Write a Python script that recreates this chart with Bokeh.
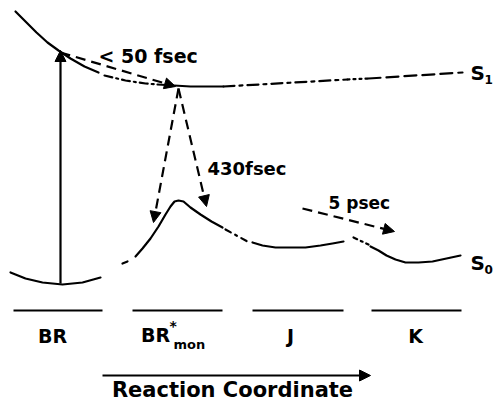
from bokeh.plotting import figure
from bokeh.models import Range1d, Arrow, NormalHead, ColumnDataSource
from bokeh.core.properties import value
from bokeh.embed import file_html
from bokeh.resources import INLINE

FONT = value("DejaVu Sans")

# ---- S1 excited-state surface (schematic points)
s1_solid_a_x = [15, 25, 36, 47, 58, 70, 84, 98]
s1_solid_a_y = [11, 21, 32, 42, 50, 58, 66, 72]
s1_dashdot_x = [104, 125, 145, 157]
s1_dashdot_y = [75, 80, 83, 84]
s1_solid_b_x = [157, 190, 223]
s1_solid_b_y = [84, 86, 86]
s1_dash_a_x = [223, 347]
s1_dash_a_y = [86, 79]
s1_dots_x = [347, 368]
s1_dots_y = [79, 78]
s1_dash_b_x = [368, 462]
s1_dash_b_y = [78, 72]

# ---- S0 ground-state surface
br_well_x = [10, 25, 42, 62, 82, 100]
br_well_y = [272, 278, 282, 284, 282, 277]
gap_dash_x = [122, 127]
gap_dash_y = [263, 261]
rise_x = [135, 142, 150, 158, 165, 170, 174, 178, 183, 190, 200, 211, 222]
rise_y = [256, 248, 238, 226, 214, 206, 201, 200, 201, 207, 214, 221, 227]
dashdot1_x = [225, 247]
dashdot1_y = [229, 241]
j_well_x = [252, 262, 275, 290, 305, 320, 332, 343]
j_well_y = [242, 245, 247, 247, 247, 245, 243, 241]
dashdot2_x = [353, 368]
dashdot2_y = [237, 244]
k_well_x = [370, 378, 386, 395, 405, 418, 432, 446, 460]
k_well_y = [246, 250, 255, 259, 262, 262, 261, 258, 255]

# ---- arrows: x0, y0, x1, y1
solid_arrow = dict(x0=[60], y0=[283], x1=[60], y1=[50])
dashed_arrows = dict(x0=[60, 178, 178, 302], y0=[52, 88, 88, 208],
                     x1=[175, 153, 206, 394], y1=[86, 222, 206, 231])
coord_arrow = dict(x0=[102], y0=[375], x1=[370], y1=[375])

# ---- level bars
level_x0 = [13, 132, 252, 371]
level_x1 = [102, 222, 343, 461]
level_y = [310, 310, 310, 310]

# ---- texts
time_labels = ["< 50 fsec", "430fsec", "5 psec"]
time_x = [98, 207, 328]
time_y = [55, 168, 202]
time_size = ["19px", "18px", "17px"]

state_labels = ["BR", "BR", "J", "K"]
state_x = [52, 155, 290, 415]
state_y = [335, 334, 335, 335]

p = figure(width=501, height=400, output_backend="svg", toolbar_location=None,
           x_range=Range1d(0, 501), y_range=Range1d(400, 0), min_border=0)
p.axis.visible = False
p.grid.visible = False
p.outline_line_color = None

LW = 2.2
def ln(x, y, dash="solid", w=LW):
    p.line(x, y, line_color="black", line_width=w, line_dash=dash, line_cap="round", line_join="round")

ln(s1_solid_a_x, s1_solid_a_y)
ln(s1_dashdot_x, s1_dashdot_y, "8 4 2 4")
ln(s1_solid_b_x, s1_solid_b_y)
ln(s1_dash_a_x, s1_dash_a_y, "11 5 3 5")
ln(s1_dots_x, s1_dots_y, "2 4")
ln(s1_dash_b_x, s1_dash_b_y, "12 6")

ln(br_well_x, br_well_y)
ln(gap_dash_x, gap_dash_y)
ln(rise_x, rise_y)
ln(dashdot1_x, dashdot1_y, "6 5 2 5")
ln(j_well_x, j_well_y)
ln(dashdot2_x, dashdot2_y, "4 4 2 4")
ln(k_well_x, k_well_y)

p.segment(level_x0, level_y, level_x1, level_y, line_color="black", line_width=1.8)

def arrows(d, dash, size):
    src = ColumnDataSource(d)
    p.add_layout(Arrow(end=NormalHead(size=size, fill_color="black", line_color="black", line_width=1),
                       x_start="x0", y_start="y0", x_end="x1", y_end="y1", source=src,
                       line_color="black", line_width=LW, line_dash=dash))

arrows(solid_arrow, "solid", 11)
arrows(dashed_arrows, "10 6", 11)
arrows(coord_arrow, "solid", 11)

for t, x, y, s in zip(time_labels, time_x, time_y, time_size):
    p.text([x], [y], text=[t], text_font=FONT, text_font_style="bold", text_font_size=s,
           text_align="left", text_baseline="middle", text_color="black")

p.text(state_x, state_y, text=state_labels, text_font=FONT, text_font_style="bold",
       text_font_size="19px", text_align="center", text_baseline="middle", text_color="black")
p.text([169], [325], text=["*"], text_font=FONT, text_font_style="bold",
       text_font_size="14px", text_align="left", text_baseline="middle", text_color="black")
p.text([173], [344], text=["mon"], text_font=FONT, text_font_style="bold",
       text_font_size="13px", text_align="left", text_baseline="middle", text_color="black")

p.text([470, 470], [72, 262], text=["S", "S"], text_font=FONT, text_font_style="bold",
       text_font_size="20px", text_align="left", text_baseline="middle", text_color="black")
p.text([484, 484], [79, 269], text=["1", "0"], text_font=FONT, text_font_style="bold",
       text_font_size="12px", text_align="left", text_baseline="middle", text_color="black")

p.text([232], [389], text=["Reaction Coordinate"], text_font=FONT, text_font_style="bold",
       text_font_size="21px", text_align="center", text_baseline="middle", text_color="black")

open("out.html", "w").write(file_html(p, INLINE))
